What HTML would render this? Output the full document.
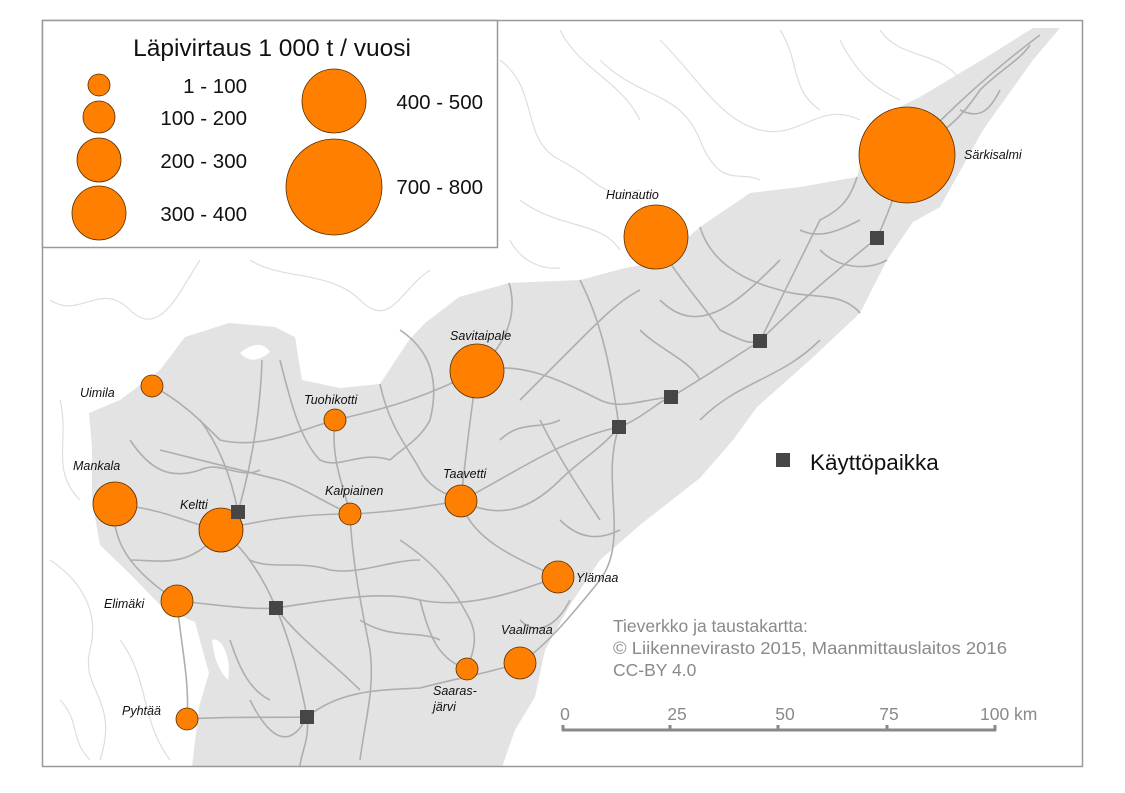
<!DOCTYPE html>
<html><head><meta charset="utf-8"><style>
html,body{margin:0;padding:0;background:#fff}
svg{display:block}
text{font-family:"Liberation Sans",sans-serif}
</style></head><body>
<svg width="1125" height="793" viewBox="0 0 1125 793" xmlns="http://www.w3.org/2000/svg">
<rect width="1125" height="793" fill="#fff"/>
<g stroke="#dedede" stroke-width="1.2" fill="none">
<path d="M50,300 C80,320 100,280 130,310 S180,290 200,260"/>
<path d="M60,400 C70,440 50,470 80,500"/>
<path d="M50,560 C80,580 100,610 90,650 S120,700 100,760"/>
<path d="M120,640 C150,680 140,720 170,760"/>
<path d="M500,60 C540,90 520,140 560,160 S600,200 640,190"/>
<path d="M560,30 C580,70 620,80 640,120"/>
<path d="M660,40 C700,80 720,120 760,130 S820,100 860,120"/>
<path d="M780,30 C800,60 790,90 820,110"/>
<path d="M520,200 C560,230 600,220 620,250"/>
<path d="M880,30 C900,60 940,50 960,80"/>
<path d="M250,260 C280,280 330,270 360,300 S400,290 430,270"/>
<path d="M510,240 C520,260 540,270 560,268"/>
<path d="M600,60 C640,100 680,90 700,140 S740,170 760,180"/>
<path d="M840,40 C860,80 880,90 900,100"/>
<path d="M60,700 C80,720 70,740 90,760"/>
</g>
<path fill="#e3e3e3" d="M1033,28 L1060,28 L1033,60 L983,130 L940,207 L913,222 L887,260 L860,313 L810,360 L757,407 L733,440 L700,478 L640,525 L600,560 L570,605 L545,650 L535,697 L515,730 L502,767 L192,767 L199,707 L209,673 L195,622 L165,610 L129,573 L100,545 L92,500 L92,447 L89,413 L120,400 L160,370 L185,337 L229,323 L275,327 L295,337 L302,380 L340,388 L380,384 L409,340 L425,323 L459,297 L509,283 L580,280 L625,268 L660,262 L700,227 L750,193 L800,187 L857,177 L873,120 L920,97 L990,55 Z"/>
<path fill="#fff" d="M240,353 C250,345 262,340 270,352 C258,362 248,362 240,353Z"/>
<path fill="#fff" d="M212,640 C222,636 232,660 228,680 C220,672 214,660 212,640Z"/>
<g stroke="#aeaeae" stroke-width="1.6" fill="none">
<path d="M115,504 C170,510 190,525 221,530 C260,520 300,514 350,514 C400,512 430,505 461,501 C520,470 560,440 619,427 C640,420 660,400 671,397 C700,380 730,360 760,341 C800,300 850,260 877,238 C890,210 900,180 907,155 C940,120 980,80 1040,35"/>
<path d="M187,719 C230,716 270,718 307,717 C340,690 380,690 420,688 C450,680 480,675 520,663 C540,650 560,630 600,580 C630,540 600,480 619,427"/>
<path d="M307,717 C300,680 290,640 276,608 C260,570 240,545 221,530"/>
<path d="M177,601 C220,605 250,610 276,608 C330,600 380,590 420,600 C470,610 520,590 558,577"/>
<path d="M152,386 C180,400 200,420 220,440 C260,450 300,430 335,420 C380,410 420,400 477,371 C520,360 560,380 600,400 C620,410 640,400 671,397"/>
<path d="M335,420 C330,460 345,490 350,514 C352,560 360,600 370,650 C375,690 365,720 360,760"/>
<path d="M477,371 C470,420 465,460 461,501 C470,540 520,560 558,577"/>
<path d="M238,512 C250,470 260,420 262,360 M238,512 C230,470 215,440 200,420"/>
<path d="M276,608 C300,640 330,660 360,690"/>
<path d="M461,501 C500,520 530,510 560,480 C580,460 600,450 619,427"/>
<path d="M115,504 C110,540 130,570 177,601 C180,640 190,680 187,719"/>
<path d="M656,237 C670,270 700,300 720,330 C740,340 750,345 760,341"/>
<path d="M509,283 C520,320 500,350 477,371"/>
<path d="M580,280 C600,320 610,360 619,427"/>
<path d="M760,341 C780,300 800,260 820,220 C840,210 850,200 857,177"/>
<path d="M700,227 C710,260 740,280 780,290 C810,300 840,290 860,313"/>
<path d="M420,600 C430,640 440,660 467,669"/>
<path d="M380,384 C390,430 410,450 420,470 C430,490 450,495 461,501"/>
<path d="M160,450 C200,460 240,470 280,480 C300,486 320,500 350,514"/>
<path d="M130,560 C160,560 190,570 221,530"/>
<path d="M400,540 C430,560 450,580 470,620 C480,640 470,660 467,669"/>
<path d="M540,420 C560,460 580,490 600,520"/>
<path d="M900,140 C930,150 960,120 980,90 C1000,70 1020,60 1030,45"/>
<path d="M820,250 C840,270 870,270 887,260"/>
<path d="M640,330 C660,350 690,360 700,380"/>
<path d="M250,700 C270,740 290,750 307,717 C310,740 300,755 300,767"/>
<path d="M130,440 C150,470 170,480 200,470 C220,460 240,480 260,470"/>
<path d="M280,360 C290,400 300,440 320,460 C340,470 360,450 390,460"/>
<path d="M400,330 C430,350 440,380 430,420 C420,440 400,450 390,460"/>
<path d="M520,400 C540,380 560,360 580,340 C600,320 620,300 640,290"/>
<path d="M500,440 C520,420 540,430 560,420"/>
<path d="M250,560 C270,570 300,560 330,570 C360,575 390,560 420,560"/>
<path d="M360,620 C390,640 420,630 440,640"/>
<path d="M230,640 C240,670 250,690 270,700"/>
<path d="M660,300 C680,320 700,320 720,310 C740,300 760,280 780,260"/>
<path d="M800,230 C820,240 840,230 860,220"/>
<path d="M700,420 C720,400 740,390 760,380 C780,370 800,360 820,340"/>
<path d="M560,520 C580,540 600,540 620,530"/>
<path d="M520,620 C540,640 560,620 570,600"/>
<path d="M960,110 C980,120 990,110 1000,90"/>
</g>
<g fill="#ff8000" stroke="#5a2d00" stroke-width="0.8">
<circle cx="907" cy="155" r="48"/>
<circle cx="656" cy="237" r="32"/>
<circle cx="477" cy="371" r="27"/>
<circle cx="152" cy="386" r="11"/>
<circle cx="335" cy="420" r="11"/>
<circle cx="115" cy="504" r="22"/>
<circle cx="221" cy="530" r="22"/>
<circle cx="350" cy="514" r="11"/>
<circle cx="461" cy="501" r="16"/>
<circle cx="558" cy="577" r="16"/>
<circle cx="177" cy="601" r="16"/>
<circle cx="520" cy="663" r="16"/>
<circle cx="467" cy="669" r="11"/>
<circle cx="187" cy="719" r="11"/>
</g>
<g fill="#464646">
<rect x="870" y="231" width="14" height="14"/>
<rect x="753" y="334" width="14" height="14"/>
<rect x="664" y="390" width="14" height="14"/>
<rect x="612" y="420" width="14" height="14"/>
<rect x="231" y="505" width="14" height="14"/>
<rect x="269" y="601" width="14" height="14"/>
<rect x="300" y="710" width="14" height="14"/>
<rect x="776" y="453" width="14" height="14"/>
</g>
<g font-size="12.5" font-style="italic" fill="#111">
<text x="964" y="159">Särkisalmi</text>
<text x="606" y="199">Huinautio</text>
<text x="450" y="340">Savitaipale</text>
<text x="80" y="397">Uimila</text>
<text x="304" y="404">Tuohikotti</text>
<text x="73" y="470">Mankala</text>
<text x="180" y="509">Keltti</text>
<text x="325" y="495">Kaipiainen</text>
<text x="443" y="478">Taavetti</text>
<text x="576" y="582">Ylämaa</text>
<text x="104" y="608">Elimäki</text>
<text x="501" y="634">Vaalimaa</text>
<text x="433" y="695">Saaras-</text>
<text x="433" y="711">järvi</text>
<text x="122" y="715">Pyhtää</text>
</g>
<text x="810" y="470" font-size="22.5" fill="#111">Käyttöpaikka</text>
<g font-size="17.5" fill="#8a8a8a">
<text x="613" y="632">Tieverkko ja taustakartta:</text>
<text x="613" y="654" textLength="394" lengthAdjust="spacingAndGlyphs">© Liikennevirasto 2015,  Maanmittauslaitos 2016</text>
<text x="613" y="676">CC-BY 4.0</text>
<text x="565" y="720" text-anchor="middle">0</text>
<text x="677" y="720" text-anchor="middle">25</text>
<text x="785" y="720" text-anchor="middle">50</text>
<text x="889" y="720" text-anchor="middle">75</text>
<text x="980" y="720">100 km</text>
</g>
<g stroke="#8a8a8a" stroke-width="3" fill="none">
<line x1="562" y1="730" x2="996" y2="730"/>
<line x1="563" y1="725" x2="563" y2="731"/>
<line x1="670" y1="725" x2="670" y2="731"/>
<line x1="778" y1="725" x2="778" y2="731"/>
<line x1="887" y1="725" x2="887" y2="731"/>
<line x1="995" y1="725" x2="995" y2="731"/>
</g>
<rect x="42.5" y="20.5" width="1040" height="746" fill="none" stroke="#999" stroke-width="1.5"/>
<rect x="42.5" y="20.5" width="455" height="227" fill="#fff" stroke="#999" stroke-width="1.5"/>
<text x="272" y="56" font-size="24.5" text-anchor="middle" fill="#111">Läpivirtaus 1 000 t / vuosi</text>
<g fill="#ff8000" stroke="#5a2d00" stroke-width="0.8">
<circle cx="99" cy="85" r="11"/>
<circle cx="99" cy="117" r="16"/>
<circle cx="99" cy="160" r="22"/>
<circle cx="99" cy="213" r="27"/>
<circle cx="334" cy="101" r="32"/>
<circle cx="334" cy="187" r="48"/>
</g>
<g font-size="20.5" fill="#111">
<text x="247" y="93" text-anchor="end">1 - 100</text>
<text x="247" y="125" text-anchor="end">100 - 200</text>
<text x="247" y="168" text-anchor="end">200 - 300</text>
<text x="247" y="221" text-anchor="end">300 - 400</text>
<text x="483" y="109" text-anchor="end">400 - 500</text>
<text x="483" y="194" text-anchor="end">700 - 800</text>
</g>
</svg>
</body></html>
